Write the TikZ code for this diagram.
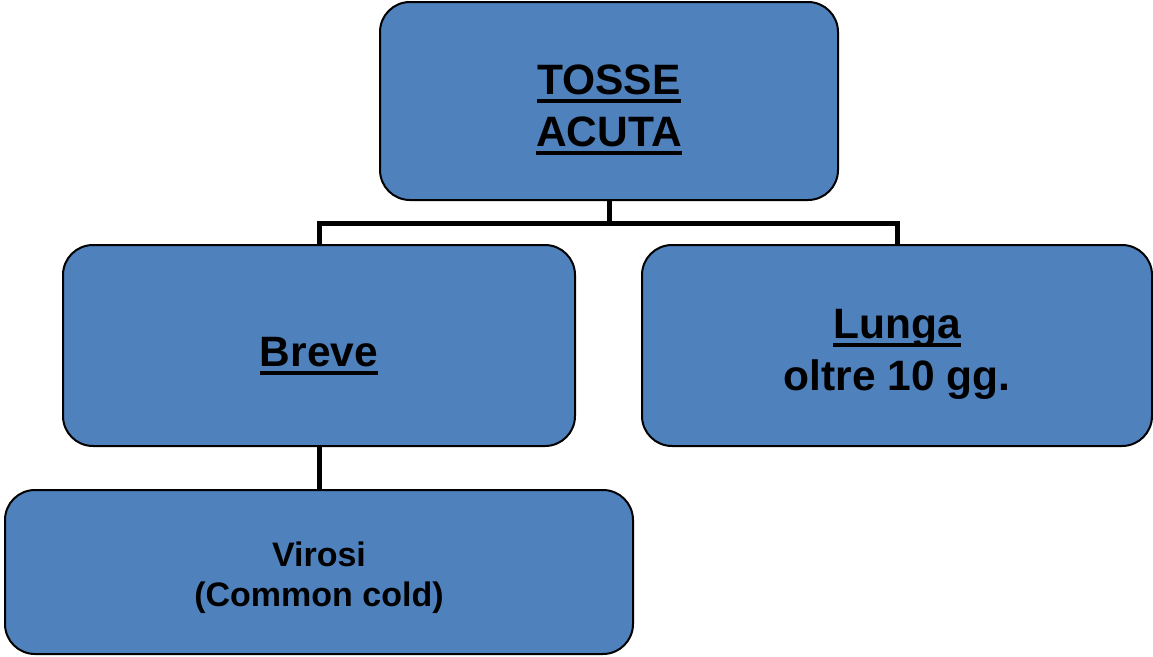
\documentclass[tikz,border=0pt]{standalone}
\usepackage{fontspec}
\setmainfont{Liberation Sans}
% underline drawn as a rule below the word
\newcommand\ulword[1]{\setbox0\hbox{#1}\rlap{\rule[-8.5pt]{\wd0}{3.5pt}}\box0}
\definecolor{boxblue}{RGB}{79,129,189}
\tikzset{
  box/.style={draw=black, line width=2pt, fill=boxblue, rounded corners=30pt,
    align=center, inner sep=0pt, text depth=0pt, text height=41pt,
    font=\bfseries\fontsize{42.5}{52}\selectfont},
  conn/.style={draw=black, line width=5pt}
}
\begin{document}
\begin{tikzpicture}[x=1pt,y=-1pt]
\useasboundingbox (0,0) rectangle (1153,656);
\node[box, minimum width=458pt, minimum height=198pt, text height=90.5pt] (top) at (609,101)
  {\ulword{TOSSE}\\\ulword{ACUTA}};
\node[box, minimum width=512pt, minimum height=201pt] (breve) at (319,345.5)
  {\ulword{Breve}};
\node[box, minimum width=510pt, minimum height=201pt, text height=89.5pt] (lunga) at (897,345.5)
  {\ulword{Lunga}\\oltre 10 gg.};
\node[box, minimum width=628pt, minimum height=164pt, text height=68pt,
  font=\bfseries\fontsize{34}{40}\selectfont] (virosi) at (319,572)
  {Virosi\\(Common cold)};
\coordinate (junction) at ([yshift=-22pt]top.south);
\draw[conn] (top.south) -- (junction) -| (breve.north);
\draw[conn] (junction) -| (lunga.north);
\draw[conn] (breve.south) -- (virosi.north);
\end{tikzpicture}
\end{document}
